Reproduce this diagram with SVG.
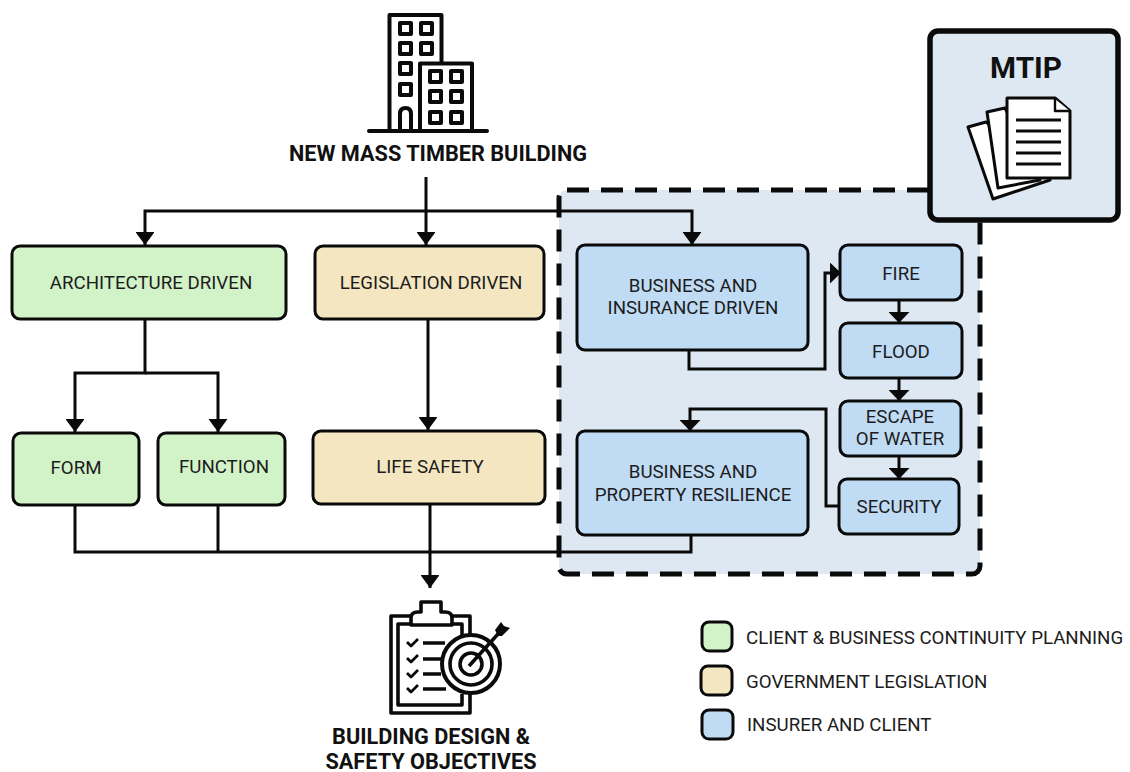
<svg xmlns="http://www.w3.org/2000/svg" width="1130" height="772" viewBox="0 0 1130 772">
<style>
text{font-family:Roboto,"Liberation Sans",sans-serif;fill:#1c1c1c;text-anchor:middle}
.l{font-size:18.7px}
.t{font-size:21.7px;font-weight:700;fill:#111}
.leg{font-size:18.7px;text-anchor:start}
.box{stroke:#0a0a0a;stroke-width:3px}
.g{fill:#d2f3c8}.y{fill:#f4e6c0}.b{fill:#c0dbf4}
.c{fill:none;stroke:#0a0a0a;stroke-width:3px}
.ic{fill:none;stroke:#0a0a0a;stroke-width:4px;stroke-linejoin:round}
.ib{fill:none;stroke:#0a0a0a;stroke-width:3.6px;stroke-linejoin:round}
.p{fill:#fff;stroke:#0a0a0a;stroke-width:3px;stroke-linejoin:round}
</style>
<defs>
<marker id="a" viewBox="0 0 13 19" refX="13" refY="9.5" markerWidth="4.33" markerHeight="6.33" orient="auto" markerUnits="strokeWidth"><path d="M0 0L13 9.5L0 19Z" fill="#0a0a0a"/></marker>
<marker id="s" viewBox="0 0 11 21" refX="10" refY="10.5" markerWidth="3.67" markerHeight="7" orient="auto" markerUnits="strokeWidth"><path d="M0 0L11 10.5L0 21Z" fill="#0a0a0a"/></marker>
</defs>
<g id="insurer-zone"><rect x="559" y="190" width="421" height="384" rx="8" fill="#dee8f2" stroke="#0a0a0a" stroke-width="5" stroke-dasharray="22 12"/></g>
<g id="connectors">
<path class="c" d="M426 177V245" marker-end="url(#a)"/>
<path class="c" d="M426 211H145V245" marker-end="url(#a)"/>
<path class="c" d="M426 211H692V245" marker-end="url(#a)"/>
<path class="c" d="M145 319V373H75V432" marker-end="url(#a)"/>
<path class="c" d="M145 373H218V432" marker-end="url(#a)"/>
<path class="c" d="M428 319V430" marker-end="url(#a)"/>
<path class="c" d="M430 504V588" marker-end="url(#a)"/>
<path class="c" d="M75 505V552H691V535"/>
<path class="c" d="M218 505V552"/>
<path class="c" d="M689 350V369H825V273H840" marker-end="url(#s)"/>
<path class="c" d="M899 300V322" marker-end="url(#s)"/>
<path class="c" d="M899 378V400" marker-end="url(#s)"/>
<path class="c" d="M899 456V478" marker-end="url(#s)"/>
<path class="c" d="M838 506H826V409H690V430" marker-end="url(#s)"/>
</g>
<g id="building">
<path class="ic" d="M389.500 130V15H441.500V62M420 130V63.500H472V130"/>
<path class="ic" d="M369 131H487" style="stroke-linecap:round"/>
<path class="ic" d="M400 23h11v11h-11zM421 23h11v11h-11zM400 43h11v11h-11zM421 43h11v11h-11zM400 63h11v11h-11zM400 84h11v11h-11zM430 71h11v11h-11zM451 71h11v11h-11zM430 91h11v11h-11zM451 91h11v11h-11zM430 112h11v11h-11zM451 112h11v11h-11z"/>
<path class="ic" d="M400 130V114Q400 108 405.500 108Q411 108 411 114V130"/>
<text class="t" x="438" y="161">NEW MASS TIMBER BUILDING</text>
</g>
<g id="mtip">
<rect x="930" y="31" width="188" height="189" rx="8" fill="#dee8f2" stroke="#0a0a0a" stroke-width="5.500"/>
<text x="1026" y="78" style="font-size:29.7px;font-weight:700;fill:#111">MTIP</text>
<path class="p" d="M986 122L968 127L993 199L1050 180Z"/>
<path class="p" d="M1005 108L987 112L998 188L1040 180Z"/>
<path class="p" d="M1007 98H1055L1070 111V178H1007Z"/>
<path class="p" d="M1055 99V111H1070" style="stroke-width:2.4px"/>
<path class="c" d="M1016 120H1061M1016 131H1061M1016 142H1061M1016 153H1061M1016 164H1061"/>
</g>
<g id="architecture"><rect class="box g" x="12" y="246" width="274" height="73" rx="8"/><text class="l" x="151" y="289">ARCHITECTURE DRIVEN</text></g>
<g id="legislation"><rect class="box y" x="315" y="246" width="229" height="73" rx="8"/><text class="l" x="431" y="289">LEGISLATION DRIVEN</text></g>
<g id="business-insurance"><rect class="box b" x="577" y="245" width="231" height="105" rx="8"/><text class="l" x="693" y="292">BUSINESS AND</text><text class="l" x="693" y="314">INSURANCE DRIVEN</text></g>
<g id="fire"><rect class="box b" x="840" y="245" width="122" height="55" rx="8"/><text class="l" x="901" y="280">FIRE</text></g>
<g id="flood"><rect class="box b" x="840" y="323" width="122" height="55" rx="8"/><text class="l" x="901" y="358">FLOOD</text></g>
<g id="escape"><rect class="box b" x="840" y="401" width="121" height="55" rx="8"/><text class="l" x="900" y="423">ESCAPE</text><text class="l" x="900" y="445">OF WATER</text></g>
<g id="security"><rect class="box b" x="839" y="479" width="120" height="55" rx="8"/><text class="l" x="899" y="513">SECURITY</text></g>
<g id="form"><rect class="box g" x="13" y="433" width="126" height="72" rx="8"/><text class="l" x="76" y="474">FORM</text></g>
<g id="function"><rect class="box g" x="158" y="433" width="127" height="72" rx="8"/><text class="l" x="224" y="473">FUNCTION</text></g>
<g id="life-safety"><rect class="box y" x="313" y="431" width="232" height="73" rx="8"/><text class="l" x="430" y="473">LIFE SAFETY</text></g>
<g id="business-property"><rect class="box b" x="577" y="431" width="231" height="104" rx="8"/><text class="l" x="693" y="478">BUSINESS AND</text><text class="l" x="693" y="501">PROPERTY RESILIENCE</text></g>
<g id="objectives">
<path class="ib" d="M410 616H391V713H470V692M453 616H470V640"/>
<path class="ib" d="M410 624H398V705H462V694M453 624H462V636"/>
<path class="ib" d="M411 625V618Q411 612 418 612H421V602H441V612H445Q452 612 452 618V625Z"/>
<path class="ib" style="stroke-width:2.800px" d="M407 642L411 646L418 639M407 658L411 662L418 655M407 673L411 677L418 670M407 688L411 692L418 685"/>
<path class="ib" d="M423 643H445M423 659H441M423 674H441M423 689H446"/>
<circle cx="471" cy="664" r="29" fill="#fff" stroke="#0a0a0a" stroke-width="4"/>
<circle cx="471" cy="664" r="21" fill="none" stroke="#0a0a0a" stroke-width="3.600"/>
<circle cx="471" cy="664" r="11" fill="none" stroke="#0a0a0a" stroke-width="3.600"/>
<path class="ib" d="M469 666L498 634"/>
<path d="M495 630L501 622L504 626L510 628L502 636L498 636Z" fill="#0a0a0a"/>
<text class="t" x="431" y="744">BUILDING DESIGN &amp;</text>
<text class="t" x="431" y="769">SAFETY OBJECTIVES</text>
</g>
<g id="legend">
<rect class="box g" x="702" y="622" width="30" height="29" rx="7"/><text class="leg" x="746" y="644">CLIENT &amp; BUSINESS CONTINUITY PLANNING</text>
<rect class="box y" x="701" y="666" width="31" height="29" rx="7"/><text class="leg" x="746" y="688">GOVERNMENT LEGISLATION</text>
<rect class="box b" x="702" y="710" width="31" height="29" rx="7"/><text class="leg" x="747" y="731">INSURER AND CLIENT</text>
</g>
</svg>
